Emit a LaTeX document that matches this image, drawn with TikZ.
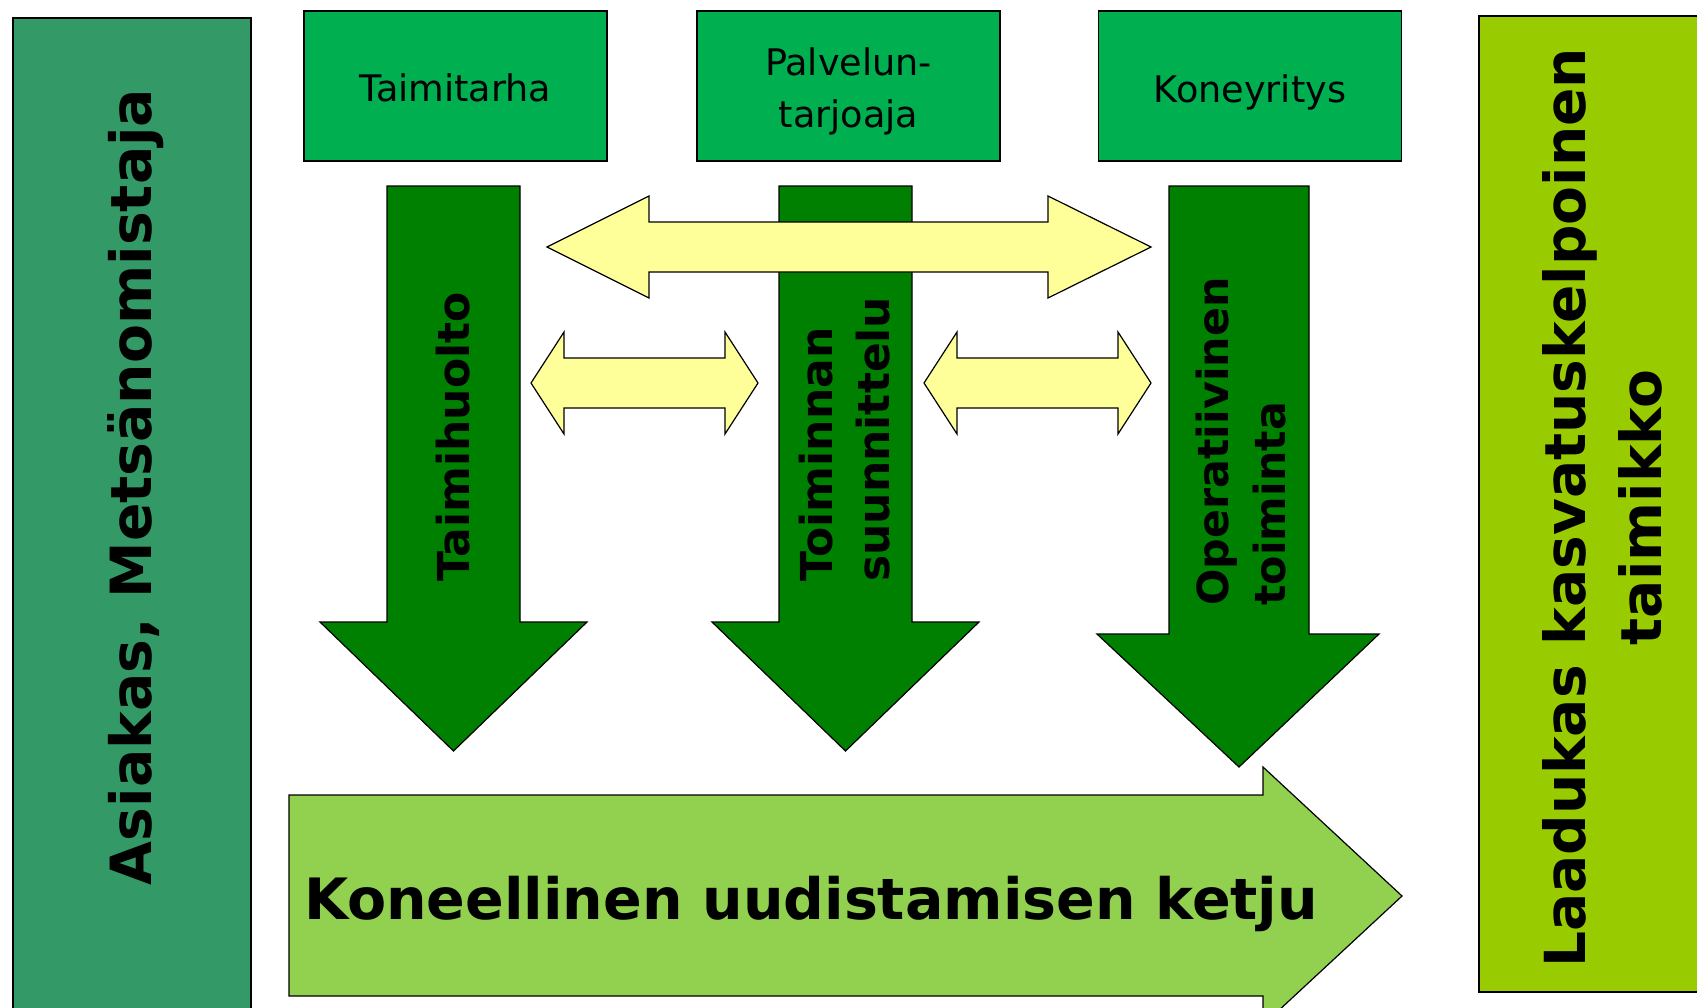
\documentclass[tikz,border=0pt]{standalone}
\usepackage{fontspec}
\setmainfont{DejaVu Sans}
\usepackage{xcolor}
\usetikzlibrary{calc}

\definecolor{sidegreen}{HTML}{339966}
\definecolor{boxgreen}{HTML}{00B050}
\definecolor{arrowgreen}{HTML}{008000}
\definecolor{chaingreen}{HTML}{92D050}
\definecolor{resultgreen}{HTML}{99CC00}
\definecolor{paleyellow}{HTML}{FFFF99}

\begin{document}
\begin{tikzpicture}[x=0.5pt,y=-0.5pt,
  outline/.style={draw=black,line width=0.6pt},
  actor/.style={outline,fill=boxgreen,minimum width=151.5pt,minimum height=75pt,inner sep=0pt},
  actortext/.style={inner sep=0pt,align=center,font=\fontsize{18.3}{25.5}\selectfont},
  downarrow/.style={outline,fill=arrowgreen},
  twoway/.style={outline,fill=paleyellow},
  vlabel/.style={rotate=90,inner sep=0pt,align=left,font=\bfseries\fontsize{22}{28.5}\selectfont},
  sidelabel/.style={rotate=90,inner sep=0pt,align=center,font=\bfseries\fontsize{28.4}{38}\selectfont}]
  \useasboundingbox (0,0) rectangle (1697,1007);
  \fill[white] (0,0) rectangle (1697,1007);

  % side boxes
  \filldraw[outline,fill=sidegreen] (13,18) rectangle (251,1030);
  \node[sidelabel] (customer) at (136,487) {Asiakas, Metsänomistaja};
  \filldraw[outline,fill=resultgreen] (1479,16) rectangle (1710,992);
  \node[sidelabel,font=\bfseries\fontsize{28.3}{38}\selectfont] (result) at (1602,508)
    {Laadukas kasvatuskelpoinen\\taimikko};

  % actors
  \node[actor,label={[actortext,yshift=-1.1pt]center:Taimitarha}] (nursery) at (455.5,86) {};
  \node[actor,label={[actortext,yshift=-2.7pt]center:Palvelun-\\tarjoaja}] (provider) at (848.5,86) {};
  \node[actor,label={[actortext,yshift=-3.2pt]center:Koneyritys}] (contractor) at (1250,86) {};

  % down arrows
  \foreach \l/\r/\hl/\hr/\sy/\ty in {387/520/320/587/622/751, 779/912/712/979/622/751, 1169/1309/1097/1379/634/767}
    \filldraw[downarrow] (\l,186) -- (\r,186) -- (\r,\sy) -- (\hr,\sy) -- ({(\l+\r)/2},\ty)
      -- (\hl,\sy) -- (\l,\sy) -- cycle;
  \node[vlabel,anchor=west] (care) at (453,582) {Taimihuolto};
  \node[vlabel,anchor=west] (planning) at (845,582) {Toiminnan\\suunnittelu};
  \node[vlabel,anchor=west,font=\bfseries\fontsize{21.4}{28.5}\selectfont] (operations) at (1241,606)
    {Operatiivinen\\toiminta};

  % two-way arrows
  \foreach \a/\b/\c/\d/\y in {547/649/1048/1151/247, 531/564/725/758/383, 924/957/1118/1151/383}
    \filldraw[twoway] (\a,\y) -- (\b,\y-51) -- (\b,\y-25) -- (\c,\y-25) -- (\c,\y-51) -- (\d,\y)
      -- (\c,\y+51) -- (\c,\y+25) -- (\b,\y+25) -- (\b,\y+51) -- cycle;

  % chain
  \filldraw[outline,fill=chaingreen] (289,795) -- (1263,795) -- (1263,767) -- (1402,896)
    -- (1263,1025) -- (1263,996) -- (289,996) -- cycle;
  \node[inner sep=0pt,font=\bfseries\fontsize{28.5}{34}\selectfont] (chain) at (811,904)
    {Koneellinen uudistamisen ketju};
\end{tikzpicture}
\end{document}
